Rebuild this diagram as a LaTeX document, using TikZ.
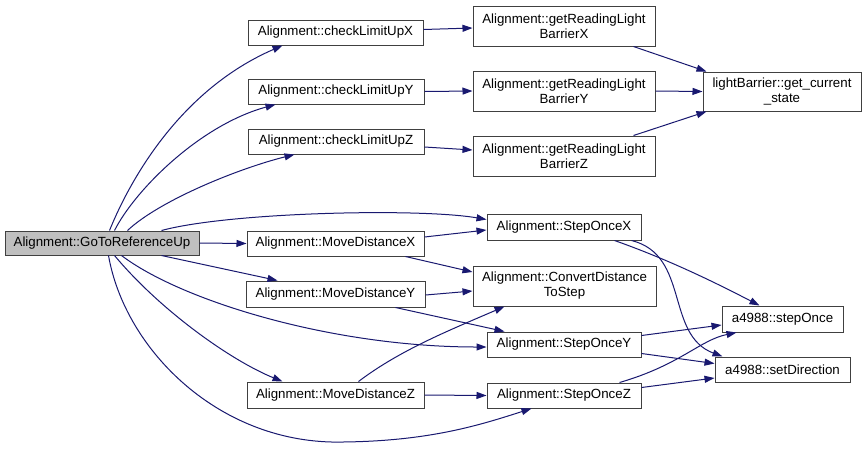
\documentclass[tikz,border=0pt]{standalone}
\usepackage{fontspec}
\setmainfont{Liberation Sans}
\usetikzlibrary{arrows.meta,calc}
\definecolor{edgec}{RGB}{25,25,112}
\definecolor{boxc}{RGB}{64,64,64}
\definecolor{rootfill}{RGB}{191,191,191}
\begin{document}
\begin{tikzpicture}[x=1pt,y=-1pt,
  fn/.style={draw=boxc,line width=1pt,fill=white,inner sep=0pt,align=center,font=\fontsize{13.3}{15}\selectfont},
  call/.style={draw=edgec,line width=1pt,-{Triangle[length=10pt,width=7pt]}}]
\useasboundingbox[fill=white] (0,0) rectangle (867,448);
% nodes
\node[fn,fill=rootfill,minimum width=194,minimum height=24] (root) at (102,243) {Alignment::GoToReferenceUp};
\node[fn,minimum width=175,minimum height=25] (cX) at (335.5,32.5) {Alignment::checkLimitUpX};
\node[fn,minimum width=176,minimum height=25] (cY) at (336,91.5) {Alignment::checkLimitUpY};
\node[fn,minimum width=176,minimum height=25] (cZ) at (336,141.5) {Alignment::checkLimitUpZ};
\node[fn,minimum width=182,minimum height=40] (gX) at (564,26) {Alignment::getReadingLight\\BarrierX};
\node[fn,minimum width=182,minimum height=40] (gY) at (564,91) {Alignment::getReadingLight\\BarrierY};
\node[fn,minimum width=182,minimum height=40] (gZ) at (564,156) {Alignment::getReadingLight\\BarrierZ};
\node[fn,minimum width=158,minimum height=39] (lb) at (782,91.5) {lightBarrier::get\_current\\\_state};
\node[fn,minimum width=177,minimum height=25] (mX) at (335.5,243.5) {Alignment::MoveDistanceX};
\node[fn,minimum width=179,minimum height=26] (mY) at (335.5,294) {Alignment::MoveDistanceY};
\node[fn,minimum width=177,minimum height=26] (mZ) at (335.5,395) {Alignment::MoveDistanceZ};
\node[fn,minimum width=154,minimum height=26] (sX) at (564,227) {Alignment::StepOnceX};
\node[fn,minimum width=183,minimum height=40] (conv) at (564.5,286) {Alignment::ConvertDistance\\ToStep};
\node[fn,minimum width=154,minimum height=25] (sY) at (564,344.5) {Alignment::StepOnceY};
\node[fn,minimum width=154,minimum height=25] (sZ) at (564,395.5) {Alignment::StepOnceZ};
\node[fn,minimum width=121,minimum height=26] (so) at (782.5,319) {a4988::stepOnce};
\node[fn,minimum width=135,minimum height=25] (sd) at (782.5,369.5) {a4988::setDirection};
% edges from root
\draw[call] ($(root.north west)+(105,0)$) .. controls (130,180) and (180,90) .. ($(cX.south west)+(35,0)$);
\draw[call] ($(root.north west)+(110,0)$) .. controls (135,190) and (200,125) .. ($(cY.south west)+(28,0)$);
\draw[call] ($(root.north west)+(123,0)$) .. controls (160,200) and (240,168) .. ($(cZ.south west)+(47,0)$);
\draw[call] ($(root.north west)+(157,0)$) .. controls (230,212) and (420,208) .. ($(sX.north west)+(0,6)$);
\draw[call] (root.east) -- (mX.west);
\draw[call] ($(root.south west)+(157,0)$) -- ($(mY.north west)+(32,0)$);
\draw[call] ($(root.south west)+(117,0)$) .. controls (180,300) and (330,347) .. ($(sY.west)+(0,2.5)$);
\draw[call] ($(root.south west)+(110,0)$) .. controls (160,310) and (230,360) .. ($(mZ.north west)+(36,0)$);
\draw[call] ($(root.south west)+(104,0)$) .. controls (125,350) and (220,445) .. (343,442) .. controls (430,441) and (480,425) .. ($(sZ.south west)+(45,0)$);
% checkLimit
\draw[call] ($(cX.east)+(0,-3)$) -- ($(gX.west)+(0,2)$);
\draw[call] (cY.east) -- (gY.west);
\draw[call] ($(cZ.east)+(0,5.5)$) -- ($(gZ.west)+(0,-6)$);
\draw[call] ($(gX.south east)+(-22,0)$) -- ($(lb.north west)+(4,0)$);
\draw[call] (gY.east) -- (lb.west);
\draw[call] ($(gZ.north east)+(-22,0)$) -- ($(lb.south west)+(4,0)$);
% MoveDistance
\draw[call] ($(mX.east)+(0,-6.5)$) -- ($(sX.west)+(0,3)$);
\draw[call] ($(mX.south east)+(-19,0)$) -- ($(conv.west)+(0,-14)$);
\draw[call] ($(mY.east)+(0,1)$) -- ($(conv.west)+(0,5)$);
\draw[call] ($(mY.south east)+(-30,0)$) -- ($(sY.north west)+(18,0)$);
\draw[call] ($(mZ.north east)+(-66,0)$) .. controls (400,350) and (450,330) .. ($(conv.south west)+(32,0)$);
\draw[call] (mZ.east) -- (sZ.west);
% StepOnce
\draw[call] ($(sX.south west)+(128,0)$) .. controls (670,260) and (720,285) .. ($(so.north west)+(38,0)$);
\draw[call] ($(sX.south west)+(145,0)$) .. controls (690,255) and (665,335) .. ($(sd.north west)+(8,0)$);
\draw[call] ($(sY.north east)+(0,4)$) -- ($(so.west)+(0,6)$);
\draw[call] ($(sY.south east)+(0,-4)$) -- ($(sd.west)+(0,-6)$);
\draw[call] ($(sZ.north west)+(133,0)$) .. controls (680,365) and (700,340) .. ($(so.south west)+(15,0)$);
\draw[call] ($(sZ.east)+(0,-8)$) -- ($(sd.west)+(0,8.5)$);
\end{tikzpicture}
\end{document}
